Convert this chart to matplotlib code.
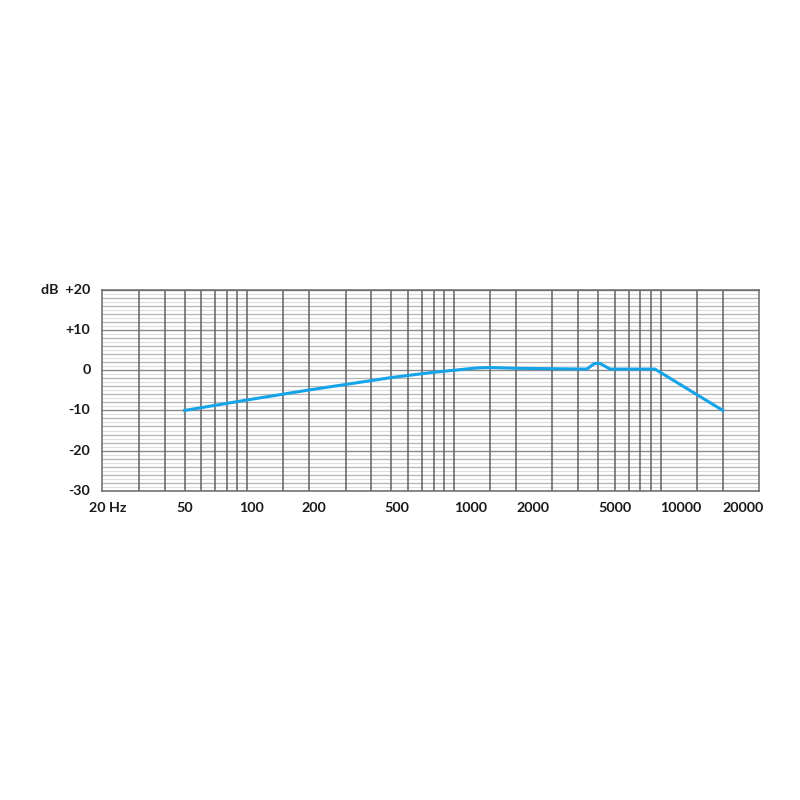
import numpy as np
import matplotlib
matplotlib.use("Agg")
import matplotlib.pyplot as plt
from matplotlib.transforms import blended_transform_factory, offset_copy

# ---- data ----
freq_hz = [50, 100, 200, 500, 800, 1000, 1300, 1500, 2000, 3000, 4400,
           4800, 5100, 5700, 7000, 9400, 20000]
level_db = [-10.0, -7.4, -4.9, -1.8, -0.5, 0.0, 0.6, 0.7, 0.5, 0.4, 0.3,
            1.7, 1.7, 0.3, 0.3, 0.3, -10.0]

grid_freqs = [30, 40, 50, 60, 70, 80, 90, 100, 150, 200, 300, 400, 500,
              600, 700, 800, 900, 1000, 1500, 2000, 3000, 4000, 5000,
              6000, 7000, 8000, 9000, 10000, 15000, 20000]
xtick_freqs = [20, 50, 100, 200, 500, 1000, 2000, 5000, 10000, 20000]
xtick_labels = ["20 Hz", "50", "100", "200", "500", "1000", "2000",
                "5000", "10000", "20000"]
ytick_vals = [20, 10, 0, -10, -20, -30]
ytick_labels = ["dB  +20", "+10", "0", "-10", "-20", "-30"]

# ---- figure ----
fig = plt.figure(figsize=(8, 8), dpi=100)
ax = fig.add_axes([0.128, 0.3866, 0.821, 0.2509])
ax.set_xscale("log")
ax.set_xlim(20, 30000)
ax.set_ylim(-30, 20)

# horizontal grid: faint every 1 dB, stronger every 2 dB
for db in range(-30, 21):
    if db % 10 == 0:
        ax.axhline(db, color="#8a8a8a", lw=1.0, zorder=1)
    elif db % 2 == 0:
        ax.axhline(db, color="#b4b4b4", lw=0.9, zorder=1)
    else:
        ax.axhline(db, color="#dedede", lw=0.8, zorder=1)

for f in grid_freqs:
    ax.axvline(f, color="#626262", lw=1.1, zorder=2)

for s in ax.spines.values():
    s.set_color("#6a6a6a")
    s.set_linewidth(1.1)

ax.plot(freq_hz, level_db, color="#16a4e8", lw=2.2, zorder=3)

ax.set_xticks([])
ax.set_yticks([])
ax.minorticks_off()

font = dict(family=["Lato", "DejaVu Sans"], fontweight="bold",
            fontsize=10.3, color="#1a1a1a")

# x labels
tr = blended_transform_factory(ax.transData, ax.transAxes)
for f, lab in zip(xtick_freqs, xtick_labels):
    if f >= 1000:
        t = offset_copy(tr, fig=fig, x=0, y=-17, units="dots")
        ax.text(f, 0, lab, transform=t, ha="left", va="center", **font)
    else:
        dx = 0 if f == 50 else 5
        t = offset_copy(tr, fig=fig, x=dx, y=-17, units="dots")
        ax.text(f, 0, lab, transform=t, ha="center", va="center", **font)

# y labels
tr_y = blended_transform_factory(ax.transAxes, ax.transData)
ty = offset_copy(tr_y, fig=fig, x=-12, y=0, units="dots")
for v, lab in zip(ytick_vals, ytick_labels):
    ax.text(0, v, lab, transform=ty, ha="right", va="center", **font)

fig.savefig("out.png", dpi=100, facecolor="white")
